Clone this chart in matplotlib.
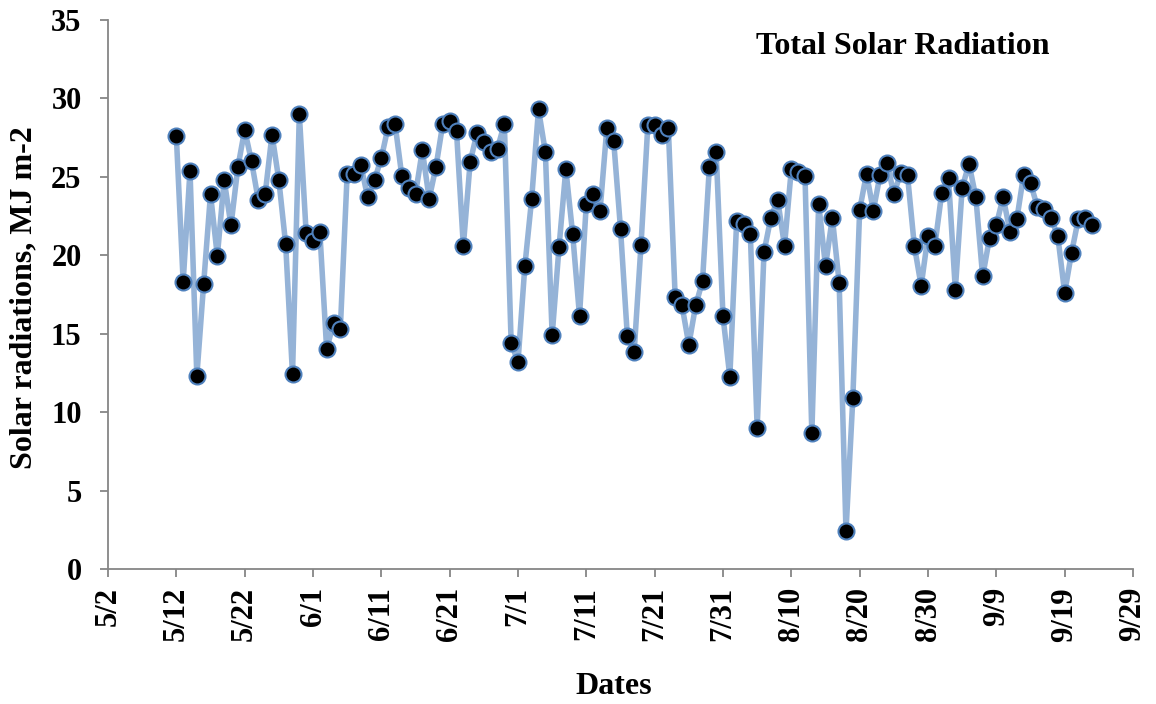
import matplotlib
matplotlib.use("Agg")
import matplotlib.pyplot as plt
import datetime as dt

start_date = "2020-05-12"
radiation = [
    27.6, 18.3, 25.4, 12.3, 18.2, 23.9, 19.95, 24.8, 21.9, 25.6,
    28.0, 26.0, 23.5, 23.9, 27.7, 24.8, 20.7, 12.4, 29.0, 21.4,
    20.9, 21.5, 14.0, 15.7, 15.3, 25.2, 25.2, 25.75, 23.7, 24.8,
    26.2, 28.2, 28.4, 25.05, 24.3, 23.9, 26.7, 23.6, 25.65, 28.4,
    28.55, 27.9, 20.6, 25.95, 27.8, 27.2, 26.6, 26.8, 28.4, 14.4,
    13.2, 19.3, 23.6, 29.3, 26.6, 14.9, 20.5, 25.5, 21.35, 16.15,
    23.3, 23.9, 22.8, 28.1, 27.3, 21.7, 14.85, 13.85, 20.65, 28.3,
    28.3, 27.7, 28.1, 17.35, 16.8, 14.3, 16.8, 18.35, 25.6, 26.6,
    16.1, 12.25, 22.2, 22.0, 21.35, 9.0, 20.2, 22.4, 23.55, 20.6,
    25.5, 25.3, 25.05, 8.65, 23.3, 19.3, 22.4, 18.25, 2.4, 10.9,
    22.9, 25.2, 22.85, 25.15, 25.9, 23.9, 25.25, 25.1, 20.6, 18.05,
    21.25, 20.6, 23.95, 24.9, 17.8, 24.3, 25.85, 23.7, 18.65, 21.1,
    21.95, 23.7, 21.5, 22.3, 25.15, 24.6, 23.1, 22.95, 22.4, 21.2,
    17.6, 20.15, 22.3, 22.35, 21.9,
]
xtick_dates = ["5/2", "5/12", "5/22", "6/1", "6/11", "6/21", "7/1", "7/11",
               "7/21", "7/31", "8/10", "8/20", "8/30", "9/9", "9/19", "9/29"]
yticks = [0, 5, 10, 15, 20, 25, 30, 35]
title_text = "Total Solar Radiation"
xlabel_text = "Dates"
ylabel_text = "Solar radiations, MJ m-2"

d0 = dt.date.fromisoformat(start_date)
dates = [d0 + dt.timedelta(days=i) for i in range(len(radiation))]
tick_pos = [dt.date(2020, int(s.split("/")[0]), int(s.split("/")[1])) for s in xtick_dates]

plt.rcParams['font.family'] = ['Liberation Serif', 'DejaVu Serif']
plt.rcParams['font.weight'] = 'bold'

W, H = 1156, 704
fig = plt.figure(figsize=(W / 100, H / 100), dpi=100)
ax = fig.add_axes([108 / W, 1 - 569 / H, (1133 - 108) / W, (569 - 20) / H])

ax.plot(dates, radiation, color="#95B3D7", lw=4, zorder=2,
        marker="o", markersize=11.5, markerfacecolor="black",
        markeredgecolor="#4F81BD", markeredgewidth=1.5)

ax.set_xlim(tick_pos[0], tick_pos[-1])
ax.set_ylim(0, 35)
ax.set_xticks(tick_pos)
ax.set_xticklabels(xtick_dates, rotation=90, fontsize=22, fontweight='bold')
ax.set_yticks(yticks)
ax.set_yticklabels([str(v) for v in yticks], fontsize=22, fontweight='bold')

for s in ["top", "right"]:
    ax.spines[s].set_visible(False)
for s in ["left", "bottom"]:
    ax.spines[s].set_color("#868686")
    ax.spines[s].set_linewidth(1.3)
ax.tick_params(axis='both', direction='out', color="#868686", width=1.3, length=6)
ax.tick_params(axis='x', pad=7)
ax.tick_params(axis='y', pad=13)

fig.text(614 / W, 1 - 686 / H, xlabel_text, ha='center', va='center',
         fontsize=23, fontweight='bold')
fig.text(23.5 / W, 1 - 298 / H, ylabel_text, ha='center', va='center',
         rotation=90, fontsize=23, fontweight='bold')
fig.text(903 / W, 1 - 46 / H, title_text, ha='center', va='center',
         fontsize=23, fontweight='bold')

fig.savefig("out.png", dpi=100)
